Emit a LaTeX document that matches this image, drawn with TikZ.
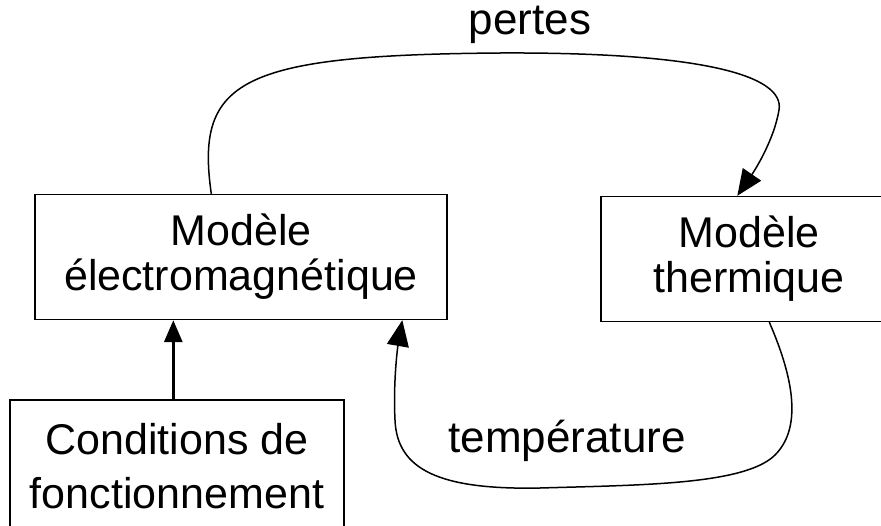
\documentclass[tikz,border=0pt]{standalone}
\usepackage{fontspec}
\setmainfont{Liberation Sans}
\usetikzlibrary{arrows.meta}
\begin{document}
\begin{tikzpicture}[x=1pt,y=-1pt,
  box/.style={draw, line width=1.4pt, inner sep=0pt, align=center, font=\fontsize{43}{45}\selectfont},
  lbl/.style={font=\fontsize{44}{46}\selectfont, inner sep=0pt},
  tip/.style={-{Triangle[length=26pt,width=22pt]}},
  link/.style={line width=1.5pt}]
\clip (0,0) rectangle (881,525);
\fill[white] (0,0) rectangle (881,525);
\node[box, minimum width=412pt, minimum height=125pt] (em) at (241,257) {Modèle\\électromagnétique};
\node[box, minimum width=296pt, minimum height=125pt] (th) at (749,259) {Modèle\\thermique};
\node[box, minimum width=334pt, minimum height=132pt, font=\fontsize{43}{54}\selectfont] (cf) at (177,466) {Conditions de\\fonctionnement};
\node[lbl, anchor=base] (pertes) at (530,34) {pertes};
\node[lbl, anchor=base] (temp) at (567,452) {température};
\coordinate (p0) at ([xshift=177pt]em.north west);
\coordinate (p1) at ([xshift=137pt]th.north west);
\coordinate (q0) at ([xshift=169pt]th.south west);
\coordinate (q1) at ([xshift=368pt]em.south west);
\coordinate (c0) at ([xshift=164pt]cf.north west);
\coordinate (c1) at ([xshift=139pt]em.south west);
\draw[link, tip] (p0) .. controls (195,80) and (240,55) .. (500,53) .. controls (700,52) and (785,75) .. (779,110) .. controls (774,140) and (755,170) .. (p1);
\draw[link, tip] (q0) .. controls (790,370) and (805,425) .. (775,455) .. controls (745,485) and (640,485) .. (540,488) .. controls (440,490) and (397,470) .. (395,420) .. controls (393,380) and (398,345) .. (q1);
\draw[line width=3.2pt, -{Triangle[length=22pt,width=18pt]}] (c0) -- (c1);
\end{tikzpicture}
\end{document}
